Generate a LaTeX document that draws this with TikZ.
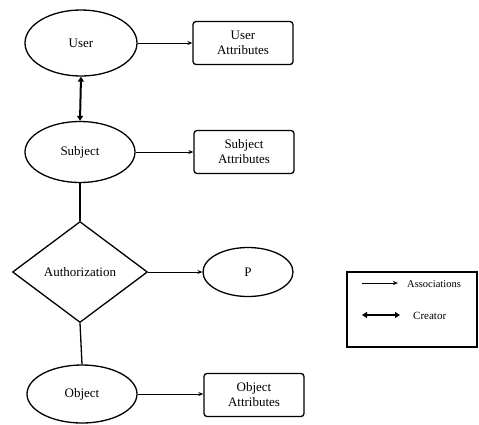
\documentclass[tikz,border=0pt]{standalone}
\usepackage{fontspec}
\setmainfont{Liberation Serif}
\usetikzlibrary{shapes.geometric,arrows.meta}
\begin{document}
\begin{tikzpicture}[x=1pt,y=-1pt,
  every node/.style={font=\fontsize{13}{15}\selectfont, align=center, inner sep=0pt},
  ell/.style={draw, ellipse, line width=1.3pt},
  attr/.style={draw, rounded corners=3pt, line width=1.3pt, minimum width=100pt, minimum height=43pt},
  assoc/.style={-{Stealth[length=5pt,width=4pt]}, line width=0.7pt},
  plain/.style={line width=1.3pt},
  creator/.style={{Triangle[length=5pt,width=6pt]}-{Triangle[length=5pt,width=6pt]}, line width=2pt}]
\useasboundingbox (0,0) rectangle (479,424);
% main column
\node[ell, minimum width=112pt, minimum height=66pt] (user) at (81,43) {User};
\node[attr] (userattr) at (243,43) {User\\Attributes};
\node[ell, minimum width=110pt, minimum height=61pt] (subject) at (80,152) {Subject};
\node[attr] (subjattr) at (244,152) {Subject\\Attributes};
\node[draw, diamond, line width=1.3pt, aspect=1.34, minimum width=135pt, minimum height=101pt] (auth) at (80,272) {Authorization};
\node[ell, minimum width=90pt, minimum height=49pt] (p) at (248,272) {P};
\node[ell, minimum width=110pt, minimum height=58pt] (object) at (82,394) {Object};
\node[attr] (objattr) at (254,395) {Object\\Attributes};
% connectors
\draw[assoc] (user.east) -- (userattr.west);
\draw[creator] (user.south) -- (subject.north);
\draw[assoc] (subject.east) -- (subjattr.west);
\draw[plain] (subject.south) -- (auth.north);
\draw[assoc] (auth.east) -- (p.west);
\draw[plain] (auth.south) -- (object.north);
\draw[assoc] (object.east) -- (objattr.west |- object.east);
% legend
\node[draw, line width=1.2pt, minimum width=130pt, minimum height=75pt] (legend) at (412,309.5) {};
\coordinate (a1) at (362,283);
\coordinate (a2) at (398,283);
\coordinate (c1) at (362,315);
\coordinate (c2) at (400,315);
\draw[assoc, line width=0.6pt] (a1) -- (a2);
\draw[creator] (c1) -- (c2);
\node[font=\fontsize{10.5}{12}\selectfont, anchor=west] (assoctext) at (407,284) {Associations};
\node[font=\fontsize{11}{12}\selectfont, anchor=west] (creatortext) at (413,316) {Creator};
\end{tikzpicture}
\end{document}
